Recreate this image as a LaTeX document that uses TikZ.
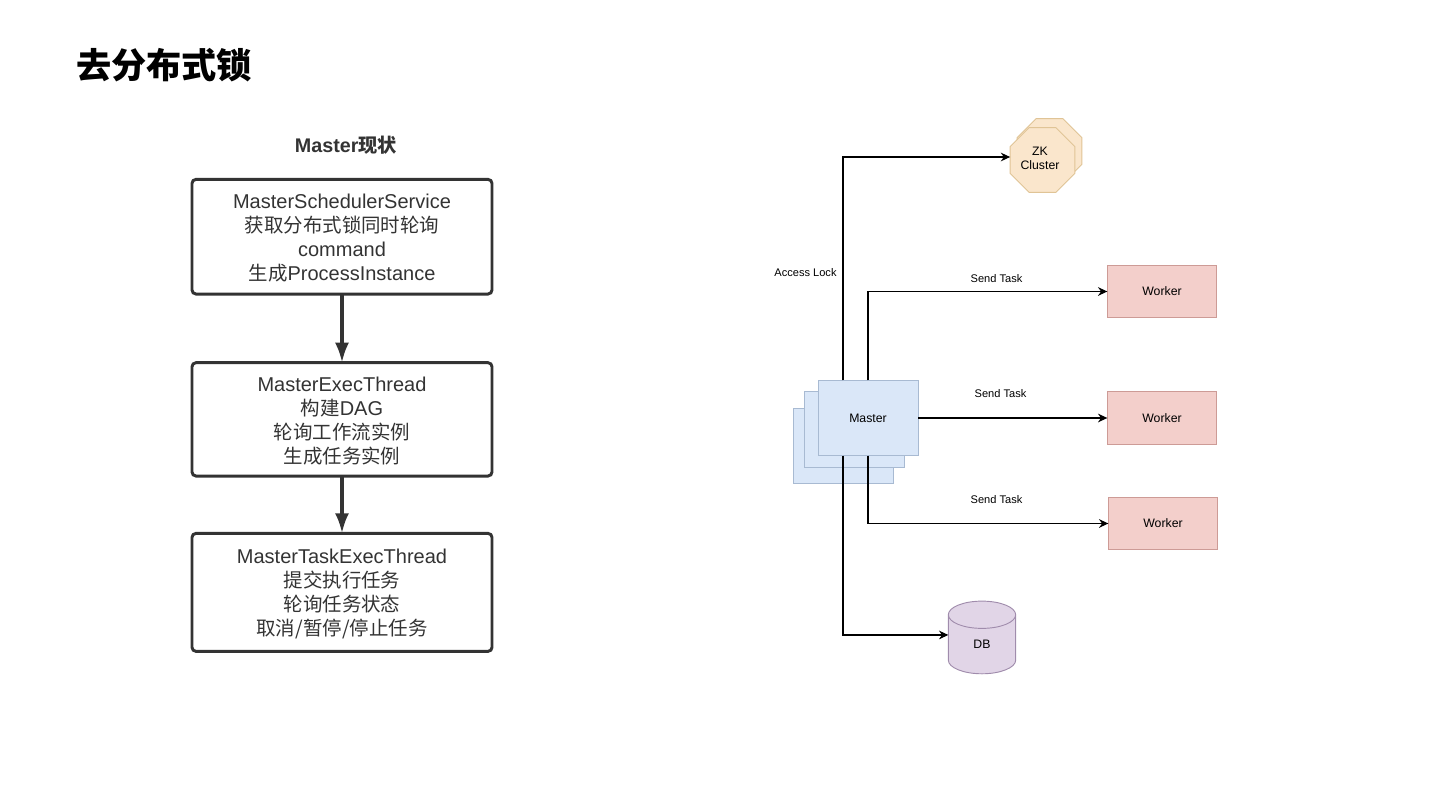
\documentclass[tikz,border=0pt]{standalone}
\usepackage{fontspec}
\setmainfont{Liberation Sans}
\newfontfamily\cjk[Scale=0.973]{Noto Sans CJK SC}
\usetikzlibrary{shapes.geometric,arrows.meta,positioning,calc}
\definecolor{flowdark}{RGB}{51, 51, 51}
\definecolor{masterfill}{RGB}{218, 231, 248}
\definecolor{masterline}{RGB}{168, 186, 210}
\definecolor{zkfill}{RGB}{250, 230, 204}
\definecolor{zkline}{RGB}{224, 196, 150}
\definecolor{workerfill}{RGB}{243, 207, 203}
\definecolor{workerline}{RGB}{205, 155, 150}
\definecolor{dbfill}{RGB}{225, 213, 231}
\definecolor{dbline}{RGB}{160, 140, 172}
\newcommand{\zh}[1]{{\cjk #1}}
\newcommand{\flowtop}{\rule{0pt}{13pt}}

\begin{document}
\begin{tikzpicture}[
    x=0.75pt, y=-0.75pt,
    every node/.style={align=center, inner sep=0pt, outer sep=0pt},
    flowbox/.style={rectangle, draw=flowdark, line width=2.2pt, rounded corners=3pt, minimum width=225pt, text=flowdark, font=\fontsize{15}{18}\selectfont},
    flowarrow/.style={-{Latex[length=15pt,width=10.5pt]}, line width=2.6pt, draw=flowdark},
    masterbox/.style={rectangle, draw=masterline, fill=masterfill, line width=0.7pt, minimum width=75pt, minimum height=56.5pt, font=\fontsize{9.2}{11}\selectfont},
    zkbox/.style={regular polygon, regular polygon sides=8, draw=zkline, fill=zkfill, line width=0.7pt, minimum size=52.5pt},
    workerbox/.style={rectangle, draw=workerline, fill=workerfill, line width=0.7pt, minimum width=82pt, minimum height=39.5pt, font=\fontsize{9.2}{11}\selectfont},
    dbbox/.style={cylinder, shape border rotate=90, aspect=1.6, draw=dbline, fill=dbfill, line width=0.7pt, minimum width=50.5pt, minimum height=54.5pt, font=\fontsize{9.2}{11}\selectfont},
    shapelabel/.style={font=\fontsize{9.2}{10.5}\selectfont},
    edgelabel/.style={font=\fontsize{8.3}{10}\selectfont},
    arrow/.style={-{Stealth[length=7pt,width=6.5pt]}, line width=0.9pt, draw=black}
]
    \useasboundingbox (0,0) rectangle (1440,810);

    \node[font=\fontsize{27.1}{30}\selectfont\cjk\bfseries] (title) at (164,65) {去分布式锁};

    % left flow
    \node[font=\fontsize{14.8}{18}\selectfont\bfseries, text=flowdark] (flowtitle) at (346,145) {Master\zh{\bfseries 现状}};
    \node[flowbox, minimum height=86pt] (scheduler) at (342,236.7) {\flowtop MasterSchedulerService \\ \zh{获取分布式锁同时轮询} \\ command \\ \zh{生成}ProcessInstance};
    \node[flowbox, minimum height=85pt, below=51.5pt of scheduler] (execthread) {\flowtop MasterExecThread \\ \zh{构建}DAG \\ \zh{轮询工作流实例} \\ \zh{生成任务实例}};
    \node[flowbox, minimum height=88.5pt, below=43pt of execthread] (taskthread) {\flowtop MasterTaskExecThread \\ \zh{提交执行任务} \\ \zh{轮询任务状态} \\ \zh{取消/暂停/停止任务}};

    \draw[flowarrow] (scheduler) -- (execthread);
    \draw[flowarrow] (execthread) -- (taskthread);

    % right side
    \node[masterbox] (masterback) at (843.5,446) {};
    \node[masterbox] (mastermid) at (854,429.5) {};
    \node[masterbox] (master) at (868,418) {Master};

    \node[zkbox] (zkback) at (1049.5,151) {};
    \node[zkbox] (zk) at (1042.5,160) {};
    \node[shapelabel] (zklabel) at (1040,158.5) {ZK \\ Cluster};

    \node[workerbox] (worker1) at (1162,291.5) {\raisebox{-0.5pt}{Worker}};
    \node[workerbox] (worker2) at (1162,418) {Worker};
    \node[workerbox] (worker3) at (1163,523.5) {\raisebox{-0.5pt}{Worker}};
    \node[dbbox] (db) at (982,644.5) {\raisebox{-6pt}{DB}};

    \node[edgelabel] (locklabel) at (805.5,272.7) {Access Lock};
    \node[edgelabel] (send1) at (996.5,278.5) {Send Task};
    \node[edgelabel] (send2) at (1000.5,393.5) {Send Task};
    \node[edgelabel] (send3) at (996.5,499.5) {Send Task};

    \coordinate (lockup) at ($(master.north west)!0.25!(master.north east)$);
    \coordinate (dbdown) at ($(master.south west)!0.25!(master.south east)$);

    \draw[arrow] (lockup) |- ([yshift=2.25pt]zk.west);
    \draw[arrow] (master.north) |- (worker1.west);
    \draw[arrow] (master.east) -- (worker2.west);
    \draw[arrow] (master.south) |- (worker3.west);
    \draw[arrow] (dbdown) |- ([yshift=7.15pt]db.west);
\end{tikzpicture}
\end{document}
